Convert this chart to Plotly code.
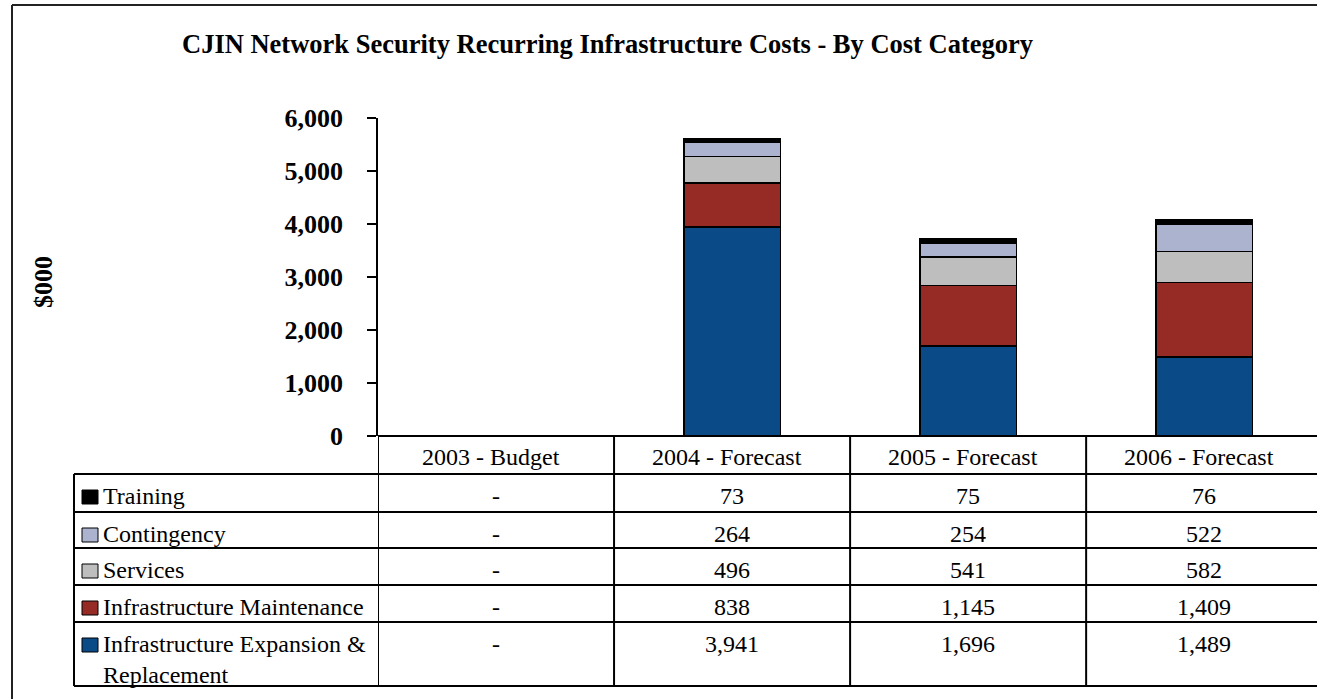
import plotly.graph_objects as go

W, H = 1317, 699

categories = ["2003 - Budget", "2004 - Forecast", "2005 - Forecast", "2006 - Forecast"]
series_names = ["Training", "Contingency", "Services", "Infrastructure Maintenance",
                "Infrastructure Expansion &<br>Replacement"]
training = [0, 73, 75, 76]
contingency = [0, 264, 254, 522]
services = [0, 496, 541, 582]
maintenance = [0, 838, 1145, 1409]
expansion = [0, 3941, 1696, 1489]
y_ticks = [0, 1000, 2000, 3000, 4000, 5000, 6000]

series_values = [training, contingency, services, maintenance, expansion]
colors = ["#000000", "#ABB3CF", "#BEBEBE", "#962A25", "#0A4B87"]

SERIF = "Liberation Serif, Times New Roman, serif"


def px(x):
    return x / W


def py(y):
    return 1 - y / H


fig = go.Figure()
# stack from bottom (expansion) to top (training)
for name, vals, col in reversed(list(zip(series_names, series_values, colors))):
    fig.add_trace(go.Bar(
        x=list(range(len(categories))), y=[v if v else None for v in vals],
        name=name.replace("<br>", " "),
        marker=dict(color=col, line=dict(color="#000000", width=1.8)),
        width=0.41, showlegend=False, hoverinfo="y+name",
    ))

x_lo, x_hi = -0.5, 3.478
fig.update_layout(
    width=W, height=H, barmode="stack",
    margin=dict(l=0, r=0, t=0, b=0, pad=0, autoexpand=False),
    paper_bgcolor="white", plot_bgcolor="white",
    font=dict(family=SERIF, color="black"),
    xaxis=dict(domain=[px(378), 1], range=[x_lo, x_hi], showticklabels=False,
               showgrid=False, zeroline=False, showline=False, ticks="", automargin=False),
    yaxis=dict(domain=[py(436), py(118)], range=[0, 6000], tickvals=y_ticks,
               tickformat=",d", showgrid=False, zeroline=False, automargin=False,
               showline=True, linecolor="black", linewidth=1.8,
               ticks="outside", ticklen=9, tickwidth=1.8, tickcolor="black",
               ticklabelstandoff=19,
               tickfont=dict(family=SERIF, size=26, color="black", weight="bold")),
)

ann = []
shapes = []
# title
ann.append(dict(x=px(607), y=py(44), xref="paper", yref="paper",
                text="<b>CJIN Network Security Recurring Infrastructure Costs - By Cost Category</b>",
                showarrow=False, font=dict(size=26.5, family=SERIF), xanchor="center", yanchor="middle"))
# y axis title
ann.append(dict(x=px(44), y=py(282), xref="paper", yref="paper", text="<b>$000</b>",
                textangle=-90, showarrow=False, font=dict(size=26, family=SERIF),
                xanchor="center", yanchor="middle"))

# outer frame
shapes.append(dict(type="line", xref="paper", yref="paper", x0=px(12), x1=1.01, y0=py(5), y1=py(5),
                   line=dict(color="#222", width=2)))
shapes.append(dict(type="line", xref="paper", yref="paper", x0=px(12), x1=px(12), y0=py(5), y1=-0.01,
                   line=dict(color="#222", width=2)))

# table
LW = 2
row_bounds = [436, 474, 512, 548, 585, 622, 686]
shapes.append(dict(type="line", xref="paper", yref="paper", x0=px(378), x1=1.01,
                   y0=py(436), y1=py(436), line=dict(color="black", width=LW)))
for yb in row_bounds[1:]:
    shapes.append(dict(type="line", xref="paper", yref="paper", x0=px(74), x1=1.01,
                       y0=py(yb), y1=py(yb), line=dict(color="black", width=LW)))
shapes.append(dict(type="line", xref="paper", yref="paper", x0=px(74), x1=px(74),
                   y0=py(474), y1=py(686), line=dict(color="black", width=LW)))
for i in range(len(categories)):
    shapes.append(dict(type="line", xref="x", yref="paper", x0=i - 0.5, x1=i - 0.5,
                       y0=py(436), y1=py(686), line=dict(color="black", width=LW)))

TFS = 24
for i, c in enumerate(categories):
    ann.append(dict(x=i, y=py(457), xref="x", yref="paper", text=c, showarrow=False, xshift=-5,
                    font=dict(size=TFS, family=SERIF), xanchor="center", yanchor="middle"))

for r, (name, vals, col) in enumerate(zip(series_names, series_values, colors)):
    top = row_bounds[r + 1]
    cy = top + 22  # visual centre of first text line
    shapes.append(dict(type="rect", xref="paper", yref="paper", x0=px(82), x1=px(98),
                       y0=py(cy - 6), y1=py(cy + 8), fillcolor=col,
                       line=dict(color="black", width=1)))
    ann.append(dict(x=px(101), y=py(cy - 15.5), xref="paper", yref="paper", text=name,
                    showarrow=False, font=dict(size=TFS, family=SERIF), align="left",
                    xanchor="left", yanchor="top"))
    for i, v in enumerate(vals):
        txt = "-" if v == 0 else f"{v:,}"
        ann.append(dict(x=i, y=py(cy - 15.5), xref="x", yref="paper", text=txt, showarrow=False,
                        font=dict(size=TFS, family=SERIF), xanchor="center", yanchor="top"))

fig.update_layout(annotations=ann, shapes=shapes)
fig.write_html("out.html", config={"displayModeBar": False},
               post_script="document.body.style.margin='0';document.body.style.overflow='hidden';")
